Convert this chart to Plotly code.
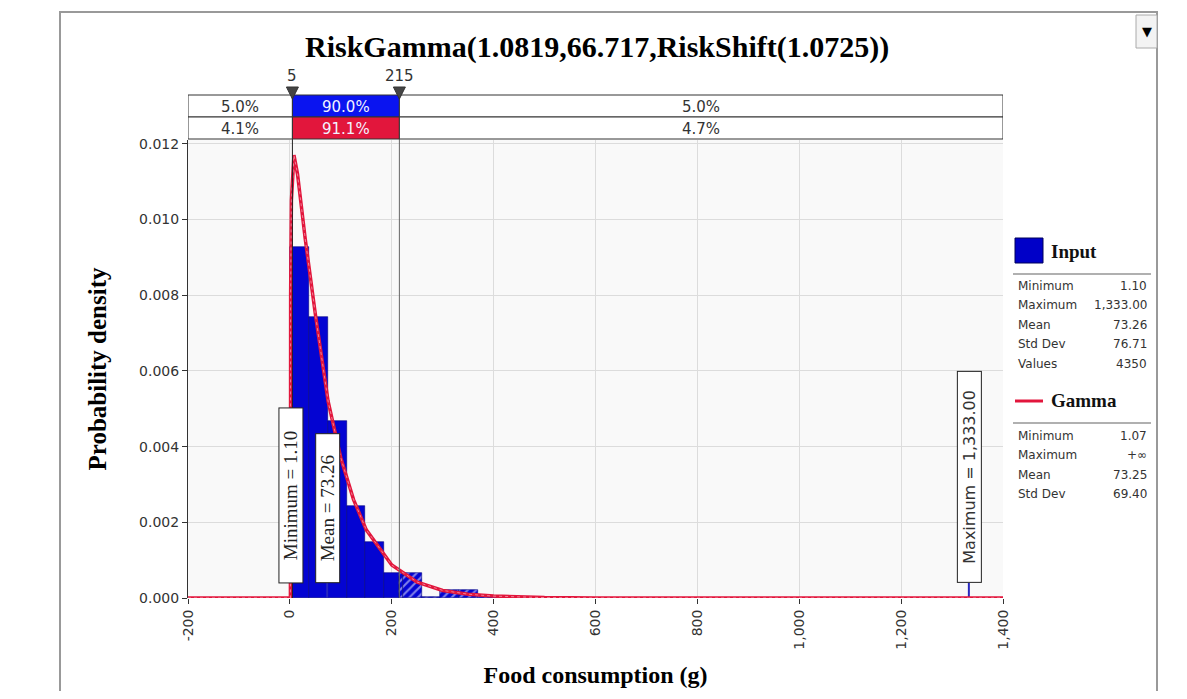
import plotly.graph_objects as go

# ---------------- data ----------------
title_text = "RiskGamma(1.0819,66.717,RiskShift(1.0725))"
x_title = "Food consumption (g)"
y_title = "Probability density"

bin_edges = [1.1, 37.9, 74.7, 111.5, 148.3, 185.1, 221.9, 258.7, 295.5, 332.3, 369.1, 405.9, 442.7]
bin_density = [0.00928, 0.00743, 0.00468, 0.00243, 0.00147, 0.00065, 0.00065,
               0.00003, 0.00021, 0.00021, 0.00004, 0.00002]

curve_x = [-200, 1.07, 1.5, 3, 8, 15, 30, 50, 75, 100, 125, 150, 200, 250, 300, 350, 400, 500, 600, 800, 1000, 1400]
curve_y = [0, 0, 0.0080, 0.0105, 0.0117, 0.0112, 0.0095, 0.0075, 0.0052, 0.0037, 0.0026, 0.0018,
           0.00087, 0.00042, 0.00020, 0.00010, 0.00005, 0.00001, 0, 0, 0, 0]

delim_left = 5
delim_right = 215
input_pct = ["5.0%", "90.0%", "5.0%"]
fit_pct = ["4.1%", "91.1%", "4.7%"]

marker_values = [1.10, 73.26, 1333.00]
marker_labels = ["Minimum = 1.10", "Mean = 73.26", "Maximum = 1,333.00"]

input_stats_labels = ["Minimum", "Maximum", "Mean", "Std Dev", "Values"]
input_stats_values = ["1.10", "1,333.00", "73.26", "76.71", "4350"]
gamma_stats_labels = ["Minimum", "Maximum", "Mean", "Std Dev"]
gamma_stats_values = ["1.07", "+\u221e", "73.25", "69.40"]

x_ticks = [-200, 0, 200, 400, 600, 800, 1000, 1200, 1400]
x_tick_text = ["-200", "0", "200", "400", "600", "800", "1,000", "1,200", "1,400"]
y_ticks = [0, 0.002, 0.004, 0.006, 0.008, 0.010, 0.012]
y_tick_text = ["0.000", "0.002", "0.004", "0.006", "0.008", "0.010", "0.012"]

# ---------------- layout geometry ----------------
# page body has an 8px margin; work in reference-window pixels and convert
OFF = 8
W, H = 1187 - 2 * OFF, 699 - 2 * OFF
PL, PR, PT, PB = 188, 1003, 140, 598          # plot area in window pixels
ML, MT = PL - OFF, PT - OFF
MR = W - (PR - OFF)
MB = H - (PB - OFF)
PW = PR - PL
PH = PB - PT
X_RANGE = [-200, 1400]
Y_RANGE = [0, 0.0121]


def pxx(px):
    return (px - PL) / PW


def pxy(py):
    return (PB - py) / PH


def dx(px):
    return px * (X_RANGE[1] - X_RANGE[0]) / PW


BLUE_BAR = "rgb(4,4,210)"
BLUE_CELL = "rgb(10,20,240)"
RED = "rgb(226,22,60)"
SERIF = "Liberation Serif"
SANS = "DejaVu Sans"

solid_x, solid_w, solid_y = [], [], []
hatch_x, hatch_w, hatch_y = [], [], []
for i, d in enumerate(bin_density):
    l, r = bin_edges[i], bin_edges[i + 1]
    if r <= delim_right:
        solid_x.append((l + r) / 2); solid_w.append(r - l); solid_y.append(d)
    elif l >= delim_right:
        hatch_x.append((l + r) / 2); hatch_w.append(r - l); hatch_y.append(d)
    else:
        solid_x.append((l + delim_right) / 2); solid_w.append(delim_right - l); solid_y.append(d)
        hatch_x.append((delim_right + r) / 2); hatch_w.append(r - delim_right); hatch_y.append(d)

fig = go.Figure()
fig.add_trace(go.Bar(x=solid_x, y=solid_y, width=solid_w, marker=dict(color=BLUE_BAR,
              line=dict(color="rgb(0,0,130)", width=0.6)), showlegend=False, hoverinfo="skip"))
fig.add_trace(go.Bar(x=hatch_x, y=hatch_y, width=hatch_w, marker=dict(color=BLUE_BAR,
              line=dict(color="rgb(0,0,130)", width=0.6),
              pattern=dict(shape="/", fgcolor="white", fillmode="overlay", size=6, solidity=0.35)),
              showlegend=False, hoverinfo="skip"))

for v in marker_values:
    fig.add_trace(go.Scatter(x=[v, v], y=[0, 0.0004], mode="lines",
                             line=dict(color="rgb(40,40,190)", width=2),
                             showlegend=False, hoverinfo="skip"))

fig.add_trace(go.Scatter(x=curve_x, y=curve_y, mode="lines", line=dict(color=RED, width=3.5),
                         showlegend=False, hoverinfo="skip", cliponaxis=False))
fig.add_trace(go.Scatter(x=curve_x, y=curve_y, mode="lines",
                         line=dict(color="rgba(255,255,255,0.45)", width=1, dash="3px,3px"),
                         showlegend=False, hoverinfo="skip", cliponaxis=False))

shapes = []
annotations = []


def ann(**kw):
    kw.setdefault("showarrow", False)
    kw.setdefault("xanchor", "center")
    kw.setdefault("yanchor", "middle")
    annotations.append(kw)


for xv, col in [(delim_left, "#222"), (delim_right, "#666")]:
    shapes.append(dict(type="line", xref="x", yref="paper", x0=xv, x1=xv, y0=0, y1=pxy(95),
                       line=dict(color=col, width=1)))

rows = [(95, 117, input_pct, BLUE_CELL), (117, 139, fit_pct, RED)]
cols = [(X_RANGE[0], delim_left), (delim_left, delim_right), (delim_right, X_RANGE[1])]
for (top, bot, texts, ccol) in rows:
    for ci, (c0, c1) in enumerate(cols):
        fill = ccol if ci == 1 else "white"
        shapes.append(dict(type="rect", xref="x", yref="paper", x0=c0, x1=c1, y0=pxy(bot), y1=pxy(top),
                           fillcolor=fill, line=dict(color="#333", width=1), layer="above"))
        ann(x=(c0 + c1) / 2, y=pxy((top + bot) / 2 + 1), xref="x", yref="paper",
            text=texts[ci], font=dict(family=SANS, size=15, color="#f2f2ff" if ci == 1 else "#333"))

for xv in [delim_left, delim_right]:
    hw = dx(6)
    shapes.append(dict(type="path", xref="x", yref="paper",
                       path=f"M {xv-hw},{pxy(87)} L {xv+hw},{pxy(87)} L {xv},{pxy(99)} Z",
                       fillcolor="#444", line=dict(color="#333", width=1), layer="above"))
    ann(x=xv, y=pxy(76), xref="x", yref="paper", text=str(xv),
        font=dict(family=SANS, size=15, color="#333"))

box_specs = [
    (SERIF, 19, "#222", 172),
    (SERIF, 19, "#222", 146),
    (SANS, 16, "#333", 208),
]
for v, lab, (fam, fs, fc, blen) in zip(marker_values, marker_labels, box_specs):
    ann(x=v, y=pxy(583), xref="x", yref="paper", text=lab,
        textangle=-90, yanchor="bottom",
        width=blen, height=21, bgcolor="white", bordercolor="#222",
        borderwidth=1, borderpad=1, font=dict(family=fam, size=fs, color=fc))

# legend panel
shapes.append(dict(type="rect", xref="paper", yref="paper", x0=pxx(1015), x1=pxx(1043),
                   y0=pxy(263), y1=pxy(238), fillcolor="rgb(0,0,200)",
                   line=dict(color="rgb(0,0,90)", width=1)))
shapes.append(dict(type="line", xref="paper", yref="paper", x0=pxx(1015), x1=pxx(1043),
                   y0=pxy(401), y1=pxy(401), line=dict(color=RED, width=3)))
for yy in [274, 423]:
    shapes.append(dict(type="line", xref="paper", yref="paper", x0=pxx(1013), x1=pxx(1151),
                       y0=pxy(yy), y1=pxy(yy), line=dict(color="#b0b0b0", width=2)))
ann(x=pxx(1049), y=pxy(251), xref="paper", yref="paper", text="<b>Input</b>", xanchor="left",
    font=dict(family=SERIF, size=19, color="#111"))
ann(x=pxx(1049), y=pxy(400), xref="paper", yref="paper", text="<b>Gamma</b>", xanchor="left",
    font=dict(family=SERIF, size=19, color="#111"))
for labels, vals, y0 in [(input_stats_labels, input_stats_values, 286),
                         (gamma_stats_labels, gamma_stats_values, 436)]:
    for k, (lb, vl) in enumerate(zip(labels, vals)):
        yy = y0 + k * 19.4
        ann(x=pxx(1016), y=pxy(yy), xref="paper", yref="paper", text=lb, xanchor="left",
            font=dict(family=SANS, size=12, color="#333"))
        ann(x=pxx(1149), y=pxy(yy), xref="paper", yref="paper", text=vl, xanchor="right",
            font=dict(family=SANS, size=12, color="#333"))

# outer frame & dropdown
shapes.append(dict(type="rect", xref="paper", yref="paper", x0=pxx(60), x1=pxx(1157),
                   y0=pxy(705), y1=pxy(12), line=dict(color="#999", width=2), fillcolor="rgba(0,0,0,0)"))
shapes.append(dict(type="rect", xref="paper", yref="paper", x0=pxx(1136), x1=pxx(1157),
                   y0=pxy(48), y1=pxy(15), line=dict(color="#aaa", width=1), fillcolor="#f3f3f3"))
ann(x=pxx(1147), y=pxy(32), xref="paper", yref="paper", text="\u25bc",
    font=dict(family=SANS, size=13, color="black"))

# title
ann(x=pxx(597), y=pxy(47), xref="paper", yref="paper", text=f"<b>{title_text}</b>",
    font=dict(family=SERIF, size=30, color="black"))

fig.update_layout(
    width=W, height=H,
    margin=dict(l=ML, r=MR, t=MT, b=MB, autoexpand=False),
    paper_bgcolor="white", plot_bgcolor="#f9f9f9",
    barmode="overlay", bargap=0,
    showlegend=False,
    shapes=shapes, annotations=annotations,
    xaxis=dict(range=X_RANGE, tickvals=x_ticks, ticktext=x_tick_text, tickangle=-90,
               showgrid=True, gridcolor="#dcdcdc", gridwidth=1, zeroline=False,
               ticks="outside", ticklen=5, tickcolor="#333", showline=False,
               tickfont=dict(family=SANS, size=14, color="#333"),
               title=dict(text=f"<b>{x_title}</b>", font=dict(family=SERIF, size=24, color="black"),
                          standoff=17)),
    yaxis=dict(range=Y_RANGE, tickvals=y_ticks, ticktext=y_tick_text,
               showgrid=True, gridcolor="#dcdcdc", gridwidth=1, zeroline=False,
               ticks="outside", ticklen=5, tickcolor="#333", showline=True, linecolor="#333",
               tickfont=dict(family=SANS, size=14, color="#333"),
               title=dict(text=f"<b>{y_title}</b>", font=dict(family=SERIF, size=25, color="black"),
                          standoff=25)),
)

fig.write_html("out.html")
